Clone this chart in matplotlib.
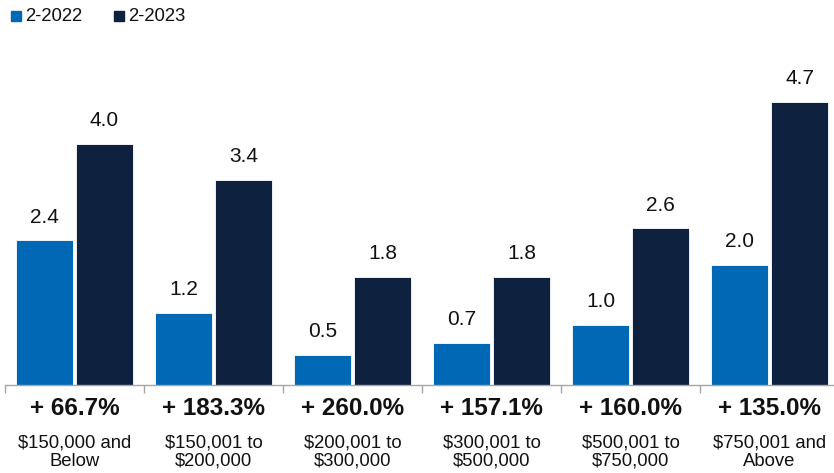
import matplotlib
matplotlib.use("Agg")
import matplotlib.pyplot as plt
from matplotlib.transforms import blended_transform_factory
import numpy as np

categories = ["$150,000 and\nBelow", "$150,001 to\n$200,000", "$200,001 to\n$300,000",
              "$300,001 to\n$500,000", "$500,001 to\n$750,000", "$750,001 and\nAbove"]
series_names = ["2-2022", "2-2023"]
values_2022 = [2.4, 1.2, 0.5, 0.7, 1.0, 2.0]
values_2023 = [4.0, 3.4, 1.8, 1.8, 2.6, 4.7]
pct_change = ["+ 66.7%", "+ 183.3%", "+ 260.0%", "+ 157.1%", "+ 160.0%", "+ 135.0%"]

colors = ["#0068B5", "#0E2240"]

plt.rcParams["font.family"] = ["Liberation Sans", "DejaVu Sans"]

W, H = 834, 473
fig = plt.figure(figsize=(W / 100, H / 100), dpi=100)
ax = fig.add_axes([5 / W, 1 - 385 / H, 834 / W, (385 - 49) / H])

x = np.arange(len(categories))
bw = 0.405
off = 0.216
b1 = ax.bar(x - off, values_2022, width=bw, color=colors[0], edgecolor="white", linewidth=0.6)
b2 = ax.bar(x + off, values_2023, width=bw, color=colors[1], edgecolor="white", linewidth=0.6)

for bars, vals in ((b1, values_2022), (b2, values_2023)):
    for r, v in zip(bars, vals):
        ax.annotate(f"{v:.1f}", (r.get_x() + r.get_width() / 2, v),
                    xytext=(0, 10), textcoords="offset points",
                    ha="center", va="bottom", fontsize=15, color="#111111")

ax.set_xlim(-0.5, len(categories) - 0.5)
ax.set_ylim(0, 5.58)

for s in ("left", "right", "top"):
    ax.spines[s].set_visible(False)
ax.spines["bottom"].set_color("#A6A6A6")
ax.spines["bottom"].set_linewidth(1.0)
ax.set_yticks([])
ax.set_xticks(np.arange(len(categories) + 1) - 0.5)
ax.set_xticklabels([])
ax.tick_params(axis="x", length=6, color="#A6A6A6", width=1.0, direction="out")

trans = blended_transform_factory(ax.transData, fig.transFigure)
for xi, p, c in zip(x, pct_change, categories):
    ax.text(xi, 1 - 408 / H, p, transform=trans, ha="center", va="center",
            fontsize=17.5, fontweight="bold", color="#111111")
    ax.text(xi, 1 - 452 / H, c, transform=trans, ha="center", va="center",
            fontsize=13.3, color="#111111", linespacing=1.12)

# legend
for xs, name, col in ((11, series_names[0], colors[0]), (114, series_names[1], colors[1])):
    fig.patches.append(plt.Rectangle((xs / W, 1 - 21 / H), 9.5 / W, 9.5 / H,
                                     transform=fig.transFigure, color=col))
    fig.text((xs + 14) / W, 1 - 16.5 / H, name, ha="left", va="center",
             fontsize=13.3, color="#111111")

fig.savefig("out.png", dpi=100)
